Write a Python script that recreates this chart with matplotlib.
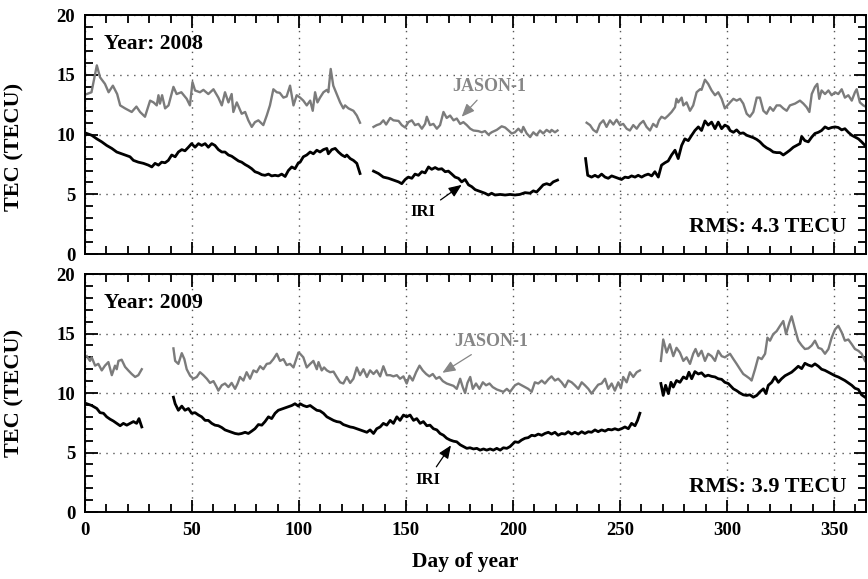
import numpy as np
import matplotlib
matplotlib.use('Agg')
import matplotlib.pyplot as plt
from matplotlib.ticker import MultipleLocator

plt.rcParams['font.family'] = ['Liberation Serif', 'DejaVu Serif']
plt.rcParams['font.weight'] = 'bold'

nan = np.nan

# ---- 2008 ----
jason08_day = [
    0.8, 3, 5.5, 7, 9.3, 11, 13, 15, 16.4, 18.7, 21.8, 24, 25.7, 28, 30.4, 32, 33.5, 34.3, 35, 36,
    37.4, 39, 41.3, 42.8, 45, 47.5, 49, 50.2, 51.4, 53.7, 55.3, 57.6, 60, 62.3, 63.9, 65.4, 67, 68.5,
    69.3, 70.9, 73.2, 74.8, 76.3, 77.9, 79.4, 81, 83.3, 84.9, 86.4, 88, 89.6, 91, 92.7, 94.2, 95.8,
    97.4, 98.9, 100.5, 102, 103.6, 105.2, 106.4, 107.5, 108.6, 109.8, 111.4, 113, 113.7, 114.8, 116,
    117.6, 119.2, 120.7, 121.5, 123.1, 125.4, 127, 128.5,
    nan,
    134.8, 136.3, 137.9, 139.4, 140.7, 142.6, 144.1, 146.5, 148, 149.6, 151.1, 152.7, 154.2, 155.8,
    157.4, 158.9, 159.7, 161.2, 162.8, 164.4, 165.9, 167.5, 169, 170.6, 172.2, 173.7, 175.3, 176.8,
    178.4, 180, 181.5, 183.8, 185.4, 186.9, 188.5, 190, 192.4, 194.7, 196.3, 197.9, 199.4,
    200.9, 202.5, 204, 204.8, 206.4, 208, 209.5, 211, 212.6, 214.1, 215.7, 217.3, 218, 219.6, 220.8,
    nan,
    234.4, 236, 237.5, 239.1, 240.6, 242.2, 243.7, 245.3, 246.9, 248.4, 250, 251.5, 253.1, 254.6,
    256.2, 257.8, 259.3, 260.9, 262.4, 264, 265.5, 267.1, 268.2, 269.4, 271, 272.5, 274.1, 275.7,
    276.4, 277.2, 278.8, 279.6, 281.1, 282.7, 284.2, 285.8, 287.4, 288.1, 289.7, 291.2, 292.8, 294.4,
    295.9, 297.5, 299,
    301.4, 303, 304.5, 306.1, 307.6, 309.2, 310.7, 312.3, 313.9, 315.4, 317, 318.5, 320.1, 321.6,
    323.2, 324.8, 326.3, 327.9, 329.4, 331.8, 334.1, 335.7, 337.2, 338.5, 339.6, 341.1, 342.2, 343.1,
    344.2, 345.8, 347.4, 348.9, 350.5, 352, 353.6, 355.1, 356.7, 358.3, 359.8, 360.6, 362.1, 363.7, 365.3,
]
jason08_tec = [
    13.4, 13.55, 15.8, 14.8, 14.25, 13.55, 14.1, 13.4, 12.45, 12.2, 11.9, 12.35, 11.9, 11.5, 12.85, 12.7, 12.45, 13.3, 12.6, 13.3,
    12.2, 12.45, 14.0, 13.4, 13.55, 13.0, 12.45, 14.4, 13.7, 13.55, 13.75, 13.4, 13.8, 13.1, 12.45, 13.55, 12.7, 13.4,
    11.9, 12.7, 11.75, 11.9, 11.2, 10.65, 11.05, 11.2, 10.8, 11.6, 12.45, 13.8, 13.55, 13.5, 13.1, 13.2, 14.1,
    12.45, 13.3, 13.1, 12.85, 12.45, 12.85, 12.0, 13.55, 12.7, 13.1, 13.55, 13.75, 13.55, 15.5, 14.1,
    13.4, 12.7, 12.2, 12.45, 12.2, 12.0, 11.6, 11.0,
    nan,
    10.65, 10.8, 10.9, 11.2, 10.85, 11.4, 11.2, 11.15, 10.8, 10.6, 11.05, 11.2, 10.8, 10.9,
    10.5, 10.9, 11.5, 10.8, 10.9, 10.5, 10.8, 11.9, 11.4, 11.6, 11.2, 11.35, 10.9, 11.05,
    10.8, 10.5, 10.35, 10.3, 10.2, 10.3, 10.0, 10.2, 10.4, 10.7, 10.6, 10.35, 10.1,
    10.2, 10.5, 10.2, 10.65, 10.1, 9.8, 10.2, 9.95, 10.35, 10.1, 10.4, 10.2, 10.4, 10.2, 10.35,
    nan,
    11.0, 10.8, 10.4, 10.2, 10.9, 11.2, 10.65, 11.2, 10.85, 11.25, 10.8, 10.9, 10.5, 10.35,
    10.8, 10.5, 10.9, 11.15, 10.65, 10.35, 10.9, 10.65, 11.2, 11.5, 11.35, 11.6, 11.9, 12.3,
    13.0, 12.7, 13.1, 12.45, 12.7, 12.0, 12.45, 13.55, 13.8, 13.75, 14.6, 14.25, 13.7, 13.3,
    13.55, 13.0, 12.2,
    12.7, 13.0, 12.85, 13.0, 12.6, 11.75, 11.5, 11.9, 13.1, 13.1, 12.0, 11.75, 12.3, 12.0,
    12.45, 12.45, 12.2, 12.0, 12.45, 12.6, 12.85, 12.6, 12.3, 11.9, 13.4, 14.0, 14.25, 13.0,
    13.7, 13.4, 13.7, 13.3, 13.55, 13.4, 13.8, 13.1, 13.3, 12.85, 13.55, 13.8, 12.7, 12.45, 12.3,
]

iri08_day = [
    0.8, 3.1, 5.5, 7.8, 10.1, 12.5, 14.8, 17.1, 18.7, 21, 22.6, 24.9, 27.3, 29.6, 31.2, 32.7, 34.3,
    35.8, 37.4, 38.9, 40.5, 42.1, 43.6, 45.2, 46.7, 48.3, 49.8, 51.4, 53, 54.5, 56.1, 57.6, 59.2,
    60.7, 62.3, 63.9, 65.4, 67, 68.5, 70.1, 71.7, 73.2, 74.8, 76.3, 77.9, 79.4, 81, 82.6, 84.1,
    85.7, 87.2, 88.8, 90.3, 91.9, 93.5, 95, 96.6, 98.1, 99.7,
    100.5, 102, 103.6, 105.2, 106.7, 108.3, 109.8, 111.4, 113, 113.7, 115.3, 116.9, 118.4, 120,
    121.5, 122.3, 123.9, 125.4, 127, 128.5,
    nan,
    134.8, 137.1, 139.4, 141.8, 144.1, 146.5, 148, 149.6, 151.1, 152.7, 154.2, 155.8, 157.4, 158.9,
    160.5, 162, 163.6, 165.1, 166.7, 168.3, 169.8, 171.4, 172.9, 174.5, 176, 177.6, 179.2, 180.7,
    182.3, 183.8, 185.4, 186.9, 188.5, 190, 191.6, 194, 196.3, 198.6,
    200.9, 203.2, 205.6, 207.9, 209.5, 211, 212.6, 214.1, 215.7, 217.3, 218.8, 220.8,
    nan,
    233.9, 234.9, 236.7, 238.3, 239.8, 241.4, 243, 244.5, 246.1, 247.6, 249.2, 250.7, 252.3, 253.9,
    255.4, 257, 258.5, 260.1, 261.6, 263.2, 264.8, 266.3, 267.9, 269.4, 271, 272.5, 274.1, 275.7,
    277.2, 278.8, 280.3, 281.9, 283.5, 285, 286.6, 288.1, 289.7, 291.2, 292.8, 294.4, 295.9, 297.5,
    299, 300.6,
    301.4, 303, 304.5, 306.1, 307.6, 309.2, 310.7, 312.3, 313.9, 315.4, 317, 318.5, 320.1, 321.6,
    323.2, 324.8, 326.3, 327.9, 329.4, 331, 332.5, 334.1, 334.9, 336.4, 338, 339.6, 341.1, 342.7,
    344.2, 345.8, 347.4, 348.9, 350.5, 352, 353.6, 355.1, 356.7, 358.3, 359.8, 361.4, 362.9, 364.5,
]
iri08_tec = [
    10.1, 9.95, 9.65, 9.4, 9.1, 8.85, 8.55, 8.4, 8.3, 8.15, 7.85, 7.7, 7.6, 7.45, 7.3, 7.6, 7.45,
    7.7, 7.65, 7.85, 8.3, 8.15, 8.55, 8.75, 8.65, 8.95, 9.25, 8.95, 9.25, 9.1, 9.25, 8.95, 9.25,
    9.1, 8.75, 8.55, 8.55, 8.3, 8.2, 8.0, 7.8, 7.7, 7.5, 7.35, 7.15, 6.9, 6.8, 6.65, 6.6,
    6.7, 6.55, 6.6, 6.55, 6.7, 6.5, 7.0, 7.3, 7.15, 7.65,
    7.7, 8.15, 8.3, 8.55, 8.4, 8.7, 8.55, 8.75, 8.85, 8.4, 8.75, 8.85, 8.55, 8.3,
    8.15, 8.3, 8.0, 7.85, 7.6, 6.75,
    nan,
    6.95, 6.75, 6.45, 6.35, 6.2, 6.05, 5.9, 6.25, 6.45, 6.35, 6.7, 6.6, 6.9, 6.8,
    7.3, 7.1, 7.25, 7.1, 7.15, 6.9, 6.95, 6.7, 6.45, 6.35, 6.05, 6.25, 5.8, 5.65,
    5.4, 5.3, 5.2, 5.1, 4.95, 5.1, 4.95, 5.0, 4.95, 5.0,
    4.95, 5.0, 5.15, 5.1, 5.3, 5.2, 5.5, 5.8, 5.9, 5.8, 6.05, 6.2,
    nan,
    8.0, 6.6, 6.45, 6.6, 6.45, 6.7, 6.45, 6.35, 6.55, 6.45, 6.35, 6.25, 6.45, 6.4,
    6.55, 6.45, 6.6, 6.45, 6.6, 6.7, 6.55, 6.9, 6.45, 7.45, 7.65, 7.8, 8.3, 8.7,
    8.0, 9.1, 9.65, 9.5, 9.95, 10.35, 10.65, 10.35, 11.15, 10.8, 11.05, 10.5, 11.05, 10.5,
    10.8, 10.65,
    10.35, 10.2, 10.4, 10.1, 10.15, 9.95, 9.85, 9.75, 9.6, 9.4, 9.1, 8.9, 8.75, 8.55,
    8.5, 8.5, 8.3, 8.5, 8.7, 8.95, 9.1, 9.25, 9.85, 9.5, 9.4, 9.8, 10.1, 10.2,
    10.35, 10.65, 10.5, 10.6, 10.65, 10.6, 10.4, 10.5, 10.2, 9.95, 9.8, 9.65, 9.4, 9.1,
]

# ---- 2009 ----
jason09_day = [
    0.8, 2.3, 3.1, 4.7, 6.2, 7.8, 9.3, 10.9, 12.5, 14, 14.8, 15.6, 17.1, 18.7, 20.2, 21.8, 23.4, 24.9, 26.5,
    nan,
    41.3, 42.1, 43.6, 45.2, 46.4, 47.5, 49.1, 50.6, 52.2, 53.7, 55.3, 56.9, 58.4, 60, 61.5, 62.3,
    63.9, 65.4, 67, 68.5, 70.1, 71.3, 72.4, 74, 75.5, 77.1, 78.7, 80.2, 81.8, 83.3, 84.9, 86.4, 88,
    89.6, 91.1, 92.7, 94.2, 95.8, 97.4, 98.4, 99.7,
    100.5, 102, 103.6, 105.2, 106.7, 108.3, 109.1, 110.6, 111.7, 113, 114.5, 116.1, 117.6, 119.2,
    120.7, 122.3, 123.9, 125.4, 127, 128.5, 130.1, 131.7, 133.2, 134.8, 136.3, 137.9, 139.4, 141,
    142.6, 144.1, 145.7, 147.2, 148.8, 150.3, 151.6, 153.1, 154.7, 156.3, 157.8, 159.4, 160.9, 162.5,
    164.1, 165.6, 167.2, 169, 170.6, 172.2, 173.7, 175.3, 176.5, 177.6, 178.7, 180, 181.2, 182.7,
    184.3, 185.9, 187.4, 189, 190.5, 192.4, 194, 195.5, 197.1, 198.6,
    200.9, 202.5, 204, 205.6, 207.1, 208.7, 210.2, 211.8, 213.4, 214.9, 216.5, 218, 219.6, 221.1,
    222.7, 224.3, 225.8, 227.4, 228.9, 230.5, 232.1, 233.6, 235.2, 236.7, 238.3, 239.8, 241.4, 243,
    244.5, 246.1, 247.6, 249.2, 250.4, 251.5, 253.1, 254.6, 256.2, 257.8, 259.3,
    nan,
    269.1, 270.2, 271.8, 273.3, 274.9, 276.4, 278, 279.6, 281.1, 282.7, 284.2, 285.3, 286.6, 288.1,
    289.7, 291.2, 292.8, 294.4, 295.9, 297.5, 299,
    301.4, 303, 304.5, 306.1, 307.6, 309.2, 310.7, 311.5, 313.1, 314.6, 316.2, 317.8, 318.9, 320.1,
    321.6, 323.2, 324.8, 326.3, 327.6, 329.1, 330.2, 331.8, 333.3, 334.9, 336.4, 338, 339.6, 341.1,
    342.7, 344.2, 345.8, 347.4, 348.9, 350.5, 352, 353.6, 355.1, 356.7, 358.3, 359.8, 361.4, 362.9, 364.5,
]
jason09_tec = [
    13.1, 12.7, 13.0, 12.3, 12.45, 11.9, 12.3, 12.6, 11.5, 12.3, 12.0, 12.7, 12.8, 12.2, 11.9, 11.6, 11.35, 11.5, 12.0,
    nan,
    13.75, 12.7, 12.45, 13.35, 12.85, 12.0, 11.45, 11.2, 11.35, 11.75, 11.5, 11.2, 10.85, 11.0, 10.5, 10.2,
    10.65, 10.8, 10.5, 10.85, 10.35, 10.8, 11.35, 11.05, 11.75, 11.2, 11.9, 11.75, 12.25, 12.0, 12.45, 12.5, 12.85,
    13.3, 12.7, 12.85, 12.35, 12.45, 12.15, 12.7, 13.4,
    13.3, 13.0, 12.15, 12.45, 12.7, 12.0, 12.6, 11.9, 12.15, 11.9, 11.75, 11.8, 11.35, 10.9,
    10.8, 11.35, 10.85, 11.2, 12.15, 11.5, 12.0, 11.35, 11.9, 11.6, 11.9, 11.4, 12.25, 11.5,
    11.5, 11.4, 11.5, 11.2, 11.4, 10.8, 11.45, 11.05, 11.75, 12.3, 11.9, 11.6, 11.4, 11.6,
    11.2, 11.35, 11.0, 10.8, 10.7, 10.6, 10.35, 11.2, 10.5, 10.0, 10.85, 11.35, 10.35, 10.8,
    10.35, 10.9, 10.65, 10.8, 10.5, 10.3, 10.2, 10.1, 10.35, 10.1,
    10.65, 10.8, 10.65, 10.5, 10.35, 10.1, 10.9, 10.8, 11.05, 10.8, 11.15, 11.4, 11.05, 11.2,
    10.9, 10.5, 11.05, 10.9, 10.65, 10.35, 10.9, 10.65, 10.35, 9.95, 10.35, 10.7, 10.8, 11.2,
    10.35, 10.8, 10.2, 10.9, 10.4, 11.35, 10.9, 11.75, 11.35, 11.75, 11.9,
    nan,
    12.7, 14.5, 13.4, 14.1, 13.1, 13.8, 13.4, 12.7, 13.0, 12.45, 13.3, 13.7, 13.1, 13.55,
    12.7, 13.3, 13.1, 12.7, 13.55, 13.1, 13.0,
    13.3, 12.85, 12.45, 12.0, 11.6, 11.4, 11.2, 11.05, 12.0, 13.0, 12.85, 13.3, 14.65, 14.4,
    14.95, 15.2, 15.65, 16.05, 14.95, 15.9, 16.45, 15.35, 14.4, 14.0, 13.7, 13.75, 14.0, 14.4,
    13.8, 13.7, 13.3, 13.7, 14.65, 15.35, 15.65, 15.1, 14.4, 14.5, 14.1, 13.7, 13.55, 13.3, 12.7,
]

iri09_day = [
    0.8, 3.1, 5.5, 7, 8.6, 10.1, 11.7, 13.2, 14.8, 16.4, 17.9, 19.5, 21, 22.6, 24.1, 25.2, 26.5,
    nan,
    41.3, 42.1, 43.6, 45.2, 46.7, 48.3, 49.8, 51.4, 53, 54.5, 56.1, 57.6, 59.2, 60.7, 62.3, 63.9,
    65.4, 67, 68.5, 70.1, 71.7, 73.2, 74.8, 76.3, 77.9, 79.4, 81, 82.6, 84.1, 85.7, 87.2, 88.8,
    90.3, 91.9, 93.5, 95, 96.6, 98.1, 99.7,
    100.5, 102, 103.6, 105.2, 106.7, 108.3, 109.8, 111.4, 113, 114.5, 116.1, 117.6, 119.2, 120.7,
    122.3, 123.9, 125.4, 127, 128.5, 130.1, 131.7, 133.2, 134.8, 136.3, 137.9, 139.4, 141, 142.6,
    144.1, 145.7, 147.2, 148.8, 150.3, 151.9, 153.5, 155, 156.6, 158.1, 159.7, 161.2, 162.8, 164.4,
    165.9, 167.5, 169, 170.6, 172.2, 173.7, 175.3, 176.8, 178.4, 179.9, 181.5, 183.1, 184.6, 186.2,
    187.7, 189.3, 190.8, 192.4, 194, 195.5, 197.1, 198.6,
    200.9, 202.5, 204, 205.6, 207.1, 208.7, 210.2, 211.8, 213.4, 214.9, 216.5, 218, 219.6, 221.1,
    222.7, 224.3, 225.8, 227.4, 228.9, 230.5, 232.1, 233.6, 235.2, 236.7, 238.3, 239.8, 241.4, 243,
    244.5, 246.1, 247.6, 249.2, 250.7, 252.3, 253.9, 255.4, 257, 258.2, 259.3,
    nan,
    269.1, 270.2, 271.3, 272.6, 273.8, 274.9, 276.4, 278, 279.6, 281.1, 282.2, 283.5, 285, 286.6,
    288.1, 289.7, 291.2, 292.8, 294.4, 295.9, 297.5, 299, 300.6,
    301.4, 303, 304.5, 306.1, 307.6, 309.2, 310.7, 312.3, 313.9, 315.4, 317, 318.2, 319.3, 320.9,
    322.4, 324, 325.5, 327.1, 328.7, 330.2, 331.8, 333.3, 334.9, 336.4, 338, 339.6, 341.1, 342.7,
    344.2, 345.8, 347.4, 348.9, 350.5, 352, 353.6, 355.1, 356.7, 358.3, 359.8, 361.4, 362.9, 364.5,
]
iri09_tec = [
    9.1, 8.95, 8.7, 8.35, 8.3, 8.0, 7.8, 7.65, 7.45, 7.25, 7.45, 7.3, 7.45, 7.6, 7.45, 7.85, 7.15,
    nan,
    9.65, 9.1, 8.55, 8.9, 8.55, 8.7, 8.3, 8.35, 8.15, 8.0, 7.7, 7.7, 7.45, 7.3, 7.25, 7.1,
    6.9, 6.8, 6.7, 6.6, 6.55, 6.6, 6.7, 6.6, 6.8, 7.0, 7.35, 7.3, 7.6, 8.0, 7.85, 8.3,
    8.55, 8.65, 8.75, 8.85, 8.95, 9.1, 8.9,
    9.1, 8.95, 8.85, 8.95, 8.75, 8.55, 8.5, 8.3, 8.0, 7.85, 7.7, 7.6, 7.55, 7.35,
    7.25, 7.15, 7.1, 7.0, 6.9, 6.8, 6.7, 6.9, 6.6, 7.0, 7.15, 7.45, 7.3, 7.7,
    7.45, 8.0, 7.7, 8.15, 8.0, 8.15, 7.7, 7.85, 7.45, 7.6, 7.25, 7.3, 7.0, 6.9,
    6.6, 6.45, 6.2, 6.05, 5.95, 5.9, 5.65, 5.5, 5.35, 5.4, 5.3, 5.35, 5.2, 5.3,
    5.2, 5.3, 5.2, 5.35, 5.2, 5.4, 5.35, 5.5,
    5.9, 5.85, 6.05, 6.2, 6.25, 6.45, 6.4, 6.55, 6.45, 6.6, 6.7, 6.55, 6.7, 6.45,
    6.6, 6.55, 6.75, 6.55, 6.7, 6.55, 6.75, 6.6, 6.75, 6.7, 6.9, 6.75, 6.9, 6.8,
    6.95, 6.9, 7.0, 6.9, 7.0, 7.15, 7.0, 7.45, 7.25, 7.7, 8.3,
    nan,
    10.8, 9.8, 10.65, 9.95, 10.9, 10.5, 11.05, 10.9, 11.35, 11.2, 11.75, 11.2, 11.8, 11.6,
    11.7, 11.4, 11.5, 11.4, 11.35, 11.2, 11.15, 10.9, 10.8,
    10.65, 10.35, 10.2, 10.0, 9.85, 9.8, 9.85, 9.65, 9.8, 10.1, 10.35, 9.95, 10.65, 10.9,
    11.35, 10.9, 11.2, 11.45, 11.6, 11.75, 12.0, 12.25, 12.05, 12.5, 12.35, 12.25, 12.45, 12.25,
    12.0, 11.9, 11.75, 11.6, 11.45, 11.35, 11.2, 11.05, 10.85, 10.65, 10.4, 10.3, 9.85, 9.65,
]

years = ['Year: 2008', 'Year: 2009']
rms_labels = ['RMS: 4.3 TECU', 'RMS: 3.9 TECU']

gray = '#7b7b7b'
fig = plt.figure(figsize=(8.68, 5.79), dpi=100)
ax1 = fig.add_axes([0.098, 0.561, 0.8998, 0.4128])
ax2 = fig.add_axes([0.098, 0.1157, 0.8998, 0.411])


def style(ax):
    ax.set_xlim(0, 365)
    ax.set_ylim(0, 20)
    ax.xaxis.set_major_locator(MultipleLocator(50))
    ax.xaxis.set_minor_locator(MultipleLocator(10))
    ax.yaxis.set_major_locator(MultipleLocator(5))
    ax.yaxis.set_minor_locator(MultipleLocator(1))
    ax.tick_params(which='both', direction='in', top=True, right=True, width=1.3)
    ax.tick_params(which='major', length=9, labelsize=13.5, pad=7)
    ax.tick_params(which='minor', length=5.5)
    ax.grid(True, which='major', color='#555555', linestyle=(0, (1, 4)), linewidth=1)
    for s in ax.spines.values():
        s.set_linewidth(1.4)
    ax.set_ylabel('TEC (TECU)', fontsize=16, fontweight='bold')


panels = [
    (ax1, jason08_day, jason08_tec, iri08_day, iri08_tec),
    (ax2, jason09_day, jason09_tec, iri09_day, iri09_tec),
]
for i, (ax, jd, jt, idd, it) in enumerate(panels):
    style(ax)
    ax.plot(jd, jt, color=gray, lw=1.7)
    ax.plot(idd, it, color='black', lw=2.0)
    ax.text(9, 17.6, years[i], fontsize=15.5, fontweight='bold', va='center')
    ax.text(356, 2.3 if i == 0 else 2.1, rms_labels[i], fontsize=16, fontweight='bold',
            ha='right', va='center')

ax1.tick_params(labelbottom=False)
ax1.yaxis.set_label_coords(-0.078, 0.45)
ax2.yaxis.set_label_coords(-0.078, 0.5)


def note(ax, label, tip, spot, color, size):
    ax.annotate(label, xy=tip, xytext=spot, color=color, fontsize=size,
                fontweight='bold', ha='center', va='center',
                arrowprops=dict(arrowstyle='-|>,head_length=0.6,head_width=0.25',
                                color=color, lw=0.9, shrinkA=2, shrinkB=0,
                                mutation_scale=13))


note(ax1, 'JASON-1', (176, 11.5), (189, 14.0), '#868686', 13)
note(ax1, 'IRI', (176, 5.8), (158, 3.5), 'black', 12)
note(ax2, 'JASON-1', (167, 11.7), (190, 14.3), '#868686', 13)
note(ax2, 'IRI', (171, 5.6), (160, 2.7), 'black', 12)

ax2.set_xlabel('Day of year', fontsize=15.5, fontweight='bold', labelpad=9)
ax2.xaxis.set_label_coords(0.487, -0.17)

fig.savefig('out.png', dpi=100)
